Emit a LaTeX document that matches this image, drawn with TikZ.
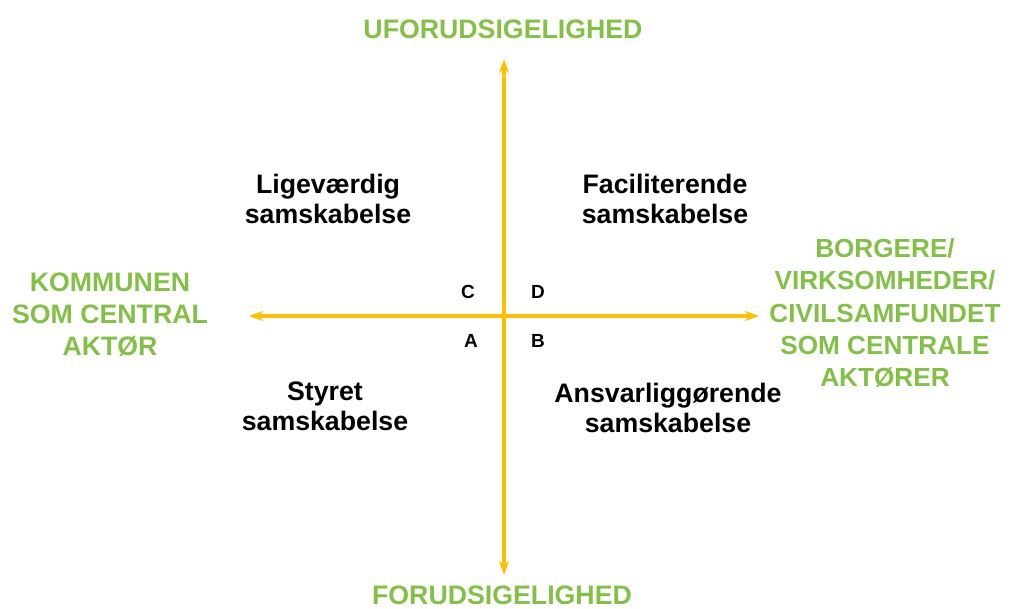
\documentclass[tikz,border=0pt]{standalone}
\usepackage{fontspec}
\setmainfont{Liberation Sans}
\usepackage{tikz}
\usetikzlibrary{positioning,arrows.meta}
\definecolor{axisyellow}{RGB}{255,192,0}
\definecolor{labelgreen}{RGB}{130,192,70}

\begin{document}
\begin{tikzpicture}[
			x=0.025cm, y=-0.025cm,
			axisline/.style={draw=axisyellow, line width=2.4pt, {Stealth[length=10pt,width=7pt]}-{Stealth[length=10pt,width=7pt]}},
			polenode/.style={text=labelgreen, font=\fontsize{19}{22.8}\selectfont\bfseries, align=center, inner sep=0pt},
			fieldnode/.style={text=black, font=\fontsize{19}{21.5}\selectfont\bfseries, align=center, inner sep=0pt},
			lettnode/.style={text=black, font=\fontsize{13.5}{15}\selectfont\bfseries, inner sep=0pt},
		]
		
			\useasboundingbox (0,0) rectangle (1013,608);
		
			%Nodes
			\coordinate (top)		at (504,59);
			\coordinate (bottom)	at (504,575);
			\coordinate (left)		at (249,316);
			\coordinate (right)		at (759,316);
		
			\node[polenode]	(unpred)	at (503,29)		{UFORUDSIGELIGHED};
			\node[polenode]	(pred)		at (502,595)	{FORUDSIGELIGHED};
			\node[polenode]	(muni)		at (110,315)	{KOMMUNEN\\SOM CENTRAL\\AKTØR};
			\node[polenode, font=\fontsize{18.6}{22.8}\selectfont\bfseries]	(citiz)		at (885,313)	{BORGERE/\\VIRKSOMHEDER/\\CIVILSAMFUNDET\\SOM CENTRALE\\AKTØRER};
		
			\node[fieldnode]	(equal)	at (328,199)	{Ligeværdig\\samskabelse};
			\node[fieldnode]	(facil)	at (665,199)	{Faciliterende\\samskabelse};
			\node[fieldnode]	(steer)	at (325,406)	{Styret\\samskabelse};
			\node[fieldnode]	(resp)	at (668,408)	{Ansvarliggørende\\samskabelse};
		
			\node[lettnode]	(c)	at (468,292)	{C};
			\node[lettnode]	(d)	at (538,292)	{D};
			\node[lettnode]	(a)	at (471,341)	{A};
			\node[lettnode]	(b)	at (538,341)	{B};
		
			%Lines
			\draw[axisline]	(bottom) -- (top);
			\draw[axisline]	(left) -- (right);
		
		\end{tikzpicture}
\end{document}
